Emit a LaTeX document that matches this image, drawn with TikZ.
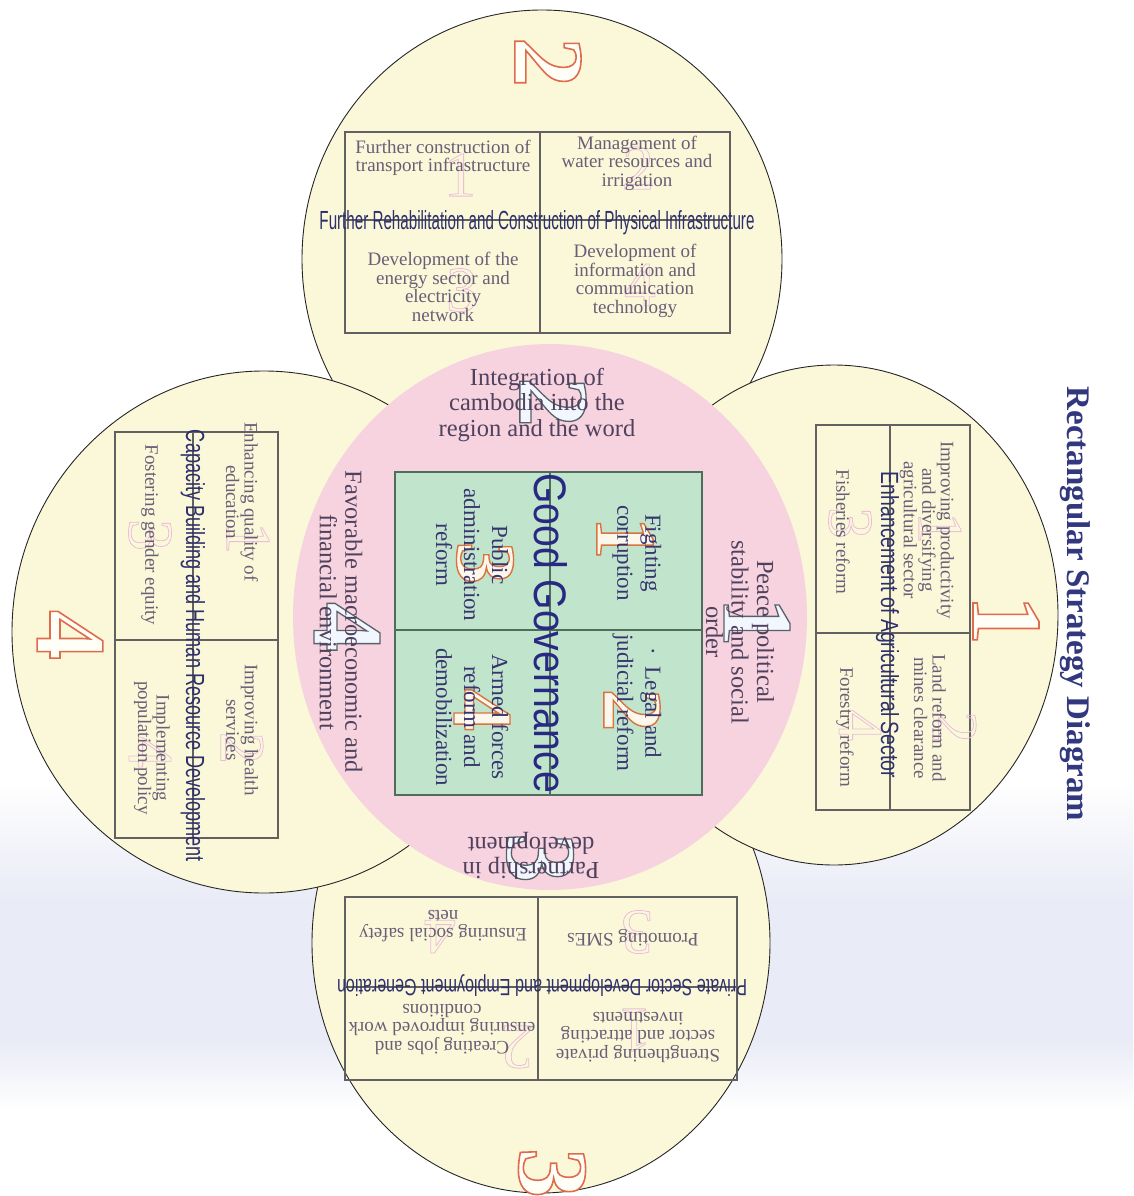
\documentclass[tikz,border=0pt]{standalone}
\usepackage{fontspec}
\usepackage{graphicx}
\setmainfont{Liberation Serif}
\newfontfamily\nsans{Liberation Sans}
\definecolor{petal}{RGB}{251,248,218}
\definecolor{pinkc}{RGB}{246,211,222}
\definecolor{greenc}{RGB}{193,228,205}
\definecolor{gborder}{RGB}{80,108,90}
\definecolor{titlec}{RGB}{46,48,108}
\definecolor{subc}{RGB}{104,94,118}
\definecolor{ringc}{RGB}{80,66,94}
\definecolor{gboxc}{RGB}{56,52,110}
\definecolor{lav}{RGB}{233,235,246}
\definecolor{maint}{RGB}{50,56,126}
\newcommand\odig[4]{\special{pdf:literal direct #1 RG #2 rg #3 w 2 Tr}#4\special{pdf:literal direct 0 Tr}}
\newcommand\sdig[3]{\special{pdf:literal direct #1 RG #2 w 1 Tr}#3\special{pdf:literal direct 0 Tr}}
\newcommand\rtitle[3]{\resizebox{#1pt}{#2pt}{\nsans #3}}
\tikzset{
  petalsh/.style={fill=petal, draw=black!85, line width=0.9pt},
  boxln/.style={draw=black!62, line width=1.1pt},
  subtxt/.style={font=\fontsize{19}{18.5}\selectfont, text=subc, align=center, inner sep=0pt},
  ringtxt/.style={font=\fontsize{24.5}{25.5}\selectfont, text=ringc, align=center, inner sep=0pt},
  gbtxt/.style={font=\fontsize{23}{28}\selectfont, text=gboxc, align=center, inner sep=0pt},
  ttl/.style={text=titlec, inner sep=0pt, anchor=base},
  bigdig/.style={inner sep=0pt, font=\fontsize{100}{100}\selectfont\bfseries, rotate=-90},
  gdig/.style={inner sep=0pt, font=\fontsize{85}{85}\selectfont\bfseries, rotate=-90},
  fdig/.style={inner sep=0pt, font=\fontsize{64}{64}\selectfont},
}
\begin{document}
\begin{tikzpicture}[x=1pt,y=-1pt]
\useasboundingbox (0,0) rectangle (1133,1196);
% background
\fill[white] (0,0) rectangle (1133,1196);
\shade[top color=white, bottom color=lav] (0,780) rectangle (1133,900);
\fill[lav] (0,899) rectangle (1133,1041);
\shade[top color=lav, bottom color=white] (0,1040) rectangle (1133,1110);
% petals
\filldraw[petalsh] (542,259) ellipse (240 and 249);
\filldraw[petalsh] (541,943) ellipse (229 and 250);
\filldraw[petalsh] (264,632) ellipse (252 and 261);
\filldraw[petalsh] (834,615) ellipse (224 and 250);
% centre disc
\fill[pinkc] (550,617) ellipse (257 and 273);
% petal boxes
\draw[boxln] (345,132) rectangle (730,333);
\draw[boxln] (540,132) -- (540,333);
\draw[boxln] (345,220) -- (730,220);
\draw[boxln] (816,425) rectangle (970,810);
\draw[boxln] (890,425) -- (890,810);
\draw[boxln] (816,633) -- (970,633);
\draw[boxln] (115,432) rectangle (278,838);
\draw[boxln] (193,432) -- (193,838);
\draw[boxln] (115,640) -- (278,640);
\draw[boxln] (345,897) rectangle (737,1080);
\draw[boxln] (538,897) -- (538,1080);
\draw[boxln] (345,987) -- (737,987);
% green box
\draw[fill=greenc, draw=gborder, line width=1.1pt] (395,472) rectangle (702,795);
\draw[draw=gborder, line width=1.1pt] (550,472) -- (550,795);
\draw[draw=gborder, line width=1.1pt] (395,630) -- (702,630);
% big digits in petals
\node[bigdig] (d2) at (548,62) {\odig{0.88 0.42 0.30}{1 1 0.97}{1.6}{2}};
\node[bigdig] (d1) at (1006,620) {\odig{0.88 0.42 0.30}{1 1 0.97}{1.6}{1}};
\node[bigdig] (d4) at (70,635) {\odig{0.88 0.42 0.30}{1 1 0.97}{1.6}{4}};
\node[bigdig] (d3) at (552,1173) {\odig{0.88 0.42 0.30}{1 1 0.97}{1.6}{3}};
% ring digits
\node[bigdig] (r1d) at (757,622) {\odig{0.35 0.38 0.40}{0.95 0.97 1}{1.3}{1}};
\node[bigdig] (r2d) at (553,402) {\odig{0.35 0.38 0.40}{0.95 0.97 1}{1.3}{2}};
\node[bigdig] (r3d) at (540,858) {\odig{0.35 0.38 0.40}{0.95 0.97 1}{1.3}{3}};
\node[bigdig] (r4d) at (347,627) {\odig{0.35 0.38 0.40}{0.95 0.97 1}{1.3}{4}};
% green box digits
\node[gdig] (g1d) at (625,538) {\odig{0.85 0.45 0.25}{0.99 0.97 0.92}{1.4}{1}};
\node[gdig] (g2d) at (632,710) {\odig{0.85 0.45 0.25}{0.99 0.97 0.92}{1.4}{2}};
\node[gdig] (g3d) at (485,563) {\odig{0.85 0.45 0.25}{0.99 0.97 0.92}{1.4}{3}};
\node[gdig] (g4d) at (482,710) {\odig{0.85 0.45 0.25}{0.99 0.97 0.92}{1.4}{4}};
% faint digits in petal boxes
\node[fdig] (ft1) at (460,175) {\sdig{0.92 0.74 0.86}{0.8}{1}};
\node[fdig] (ft2) at (638,168) {\sdig{0.92 0.74 0.86}{0.8}{2}};
\node[fdig] (ft3) at (462,290) {\sdig{0.92 0.74 0.86}{0.8}{3}};
\node[fdig] (ft4) at (640,285) {\sdig{0.92 0.74 0.86}{0.8}{4}};
\node[fdig, rotate=-90] (fr1) at (940,528) {\sdig{0.92 0.74 0.86}{0.8}{1}};
\node[fdig, rotate=-90] (fr2) at (955,727) {\sdig{0.92 0.74 0.86}{0.8}{2}};
\node[fdig, rotate=-90] (fr3) at (850,523) {\sdig{0.92 0.74 0.86}{0.8}{3}};
\node[fdig, rotate=-90] (fr4) at (860,725) {\sdig{0.92 0.74 0.86}{0.8}{4}};
\node[fdig, rotate=-90] (fl1) at (248,538) {\sdig{0.92 0.74 0.86}{0.8}{1}};
\node[fdig, rotate=-90] (fl3) at (150,535) {\sdig{0.92 0.74 0.86}{0.8}{3}};
\node[fdig, rotate=-90] (fl2) at (242,748) {\sdig{0.92 0.74 0.86}{0.8}{2}};
\node[fdig, rotate=-90] (fl4) at (150,752) {\sdig{0.92 0.74 0.86}{0.8}{4}};
\node[fdig, rotate=180] (fb3) at (637,932) {\sdig{0.92 0.74 0.86}{0.8}{3}};
\node[fdig, rotate=180] (fb4) at (440,932) {\sdig{0.92 0.74 0.86}{0.8}{4}};
\node[fdig, rotate=180] (fb1) at (635,1030) {\sdig{0.92 0.74 0.86}{0.8}{1}};
\node[fdig, rotate=180] (fb2) at (517,1047) {\sdig{0.92 0.74 0.86}{0.8}{2}};
% titles of the petals and centre
\node[ttl] (tt) at (537,229) {\rtitle{435}{19}{Further Rehabilitation and Construction of Physical Infrastructure}};
\node[ttl, rotate=-90] (tr) at (881,625) {\rtitle{306}{18}{Enhancement of Agricultural Sector}};
\node[ttl, rotate=-90] (tl) at (186,646) {\rtitle{432}{19}{Capacity Building and Human Resource Development}};
\node[ttl, rotate=180] (tb) at (542,979) {\rtitle{410}{17}{Private Sector Development and Employment Generation}};
\node[ttl, rotate=-90, text=titlec!85!blue] (gg) at (534,633) {\rtitle{320}{33}{Good Governance}};
% top petal texts
\node[subtxt] (t1) at (443,158) {Further construction of\\transport infrastructure};
\node[subtxt] (t2) at (637,163) {Management of\\water resources and\\irrigation};
\node[subtxt] (t3) at (443,287) {Development of the\\energy sector and\\electricity\\network};
\node[subtxt] (t4) at (635,281) {Development of\\information and\\communication\\technology};
% right petal texts
\node[subtxt, rotate=-90] (a1) at (927,530) {Improving productivity\\and diversifying\\agricultural sector};
\node[subtxt, rotate=-90] (a2) at (930,718) {Land reform and\\mines clearance};
\node[subtxt, rotate=-90] (a3) at (843,532) {Fisheries reform};
\node[subtxt, rotate=-90] (a4) at (845,727) {Forestry reform};
% left petal texts
\node[subtxt, rotate=-90] (c1) at (242,502) {Enhancing quality of\\education};
\node[subtxt, rotate=-90] (c2) at (242,730) {Improving health\\services};
\node[subtxt, rotate=-90] (c3) at (150,535) {Fostering gender equity};
\node[subtxt, rotate=-90] (c4) at (152,748) {Implementing\\population policy};
% bottom petal texts
\node[subtxt, rotate=180] (p1) at (633,938) {Promoting SMEs};
\node[subtxt, rotate=180] (p2) at (443,926) {Ensuring social safety\\nets};
\node[subtxt, rotate=180] (p3) at (638,1037) {Strengthening private\\sector and attracting\\investments};
\node[subtxt, rotate=180] (p4) at (442,1029) {Creating jobs and\\ensuring improved work\\conditions};
% ring texts
\node[ringtxt] (i1) at (537,405) {Integration of\\cambodia into the\\region and the word};
\node[ringtxt, rotate=-90] (i2) at (740,632) {Peace political\\stability and social\\order};
\node[ringtxt, rotate=-90] (i4) at (341,622) {Favorable macroeconomic and\\financial environment};
\node[ringtxt, rotate=180] (i3) at (531,856) {Partnership in\\development};
% green box texts
\node[gbtxt, rotate=-90] (g1) at (637,553) {Fighting\\corruption};
\node[gbtxt, rotate=-90] (g2) at (637,703) {\textperiodcentered\ \ Legal and\\judicial reform};
\node[gbtxt, rotate=-90] (g3) at (472,555) {Public\\administration\\reform};
\node[gbtxt, rotate=-90] (g4) at (472,717) {Armed forces\\reform and\\demobilization};
% main title
\node[font=\fontsize{33}{33}\selectfont\bfseries, text=maint, rotate=-90, inner sep=0pt] (title) at (1075,604) {Rectangular Strategy Diagram};
\end{tikzpicture}
\end{document}
